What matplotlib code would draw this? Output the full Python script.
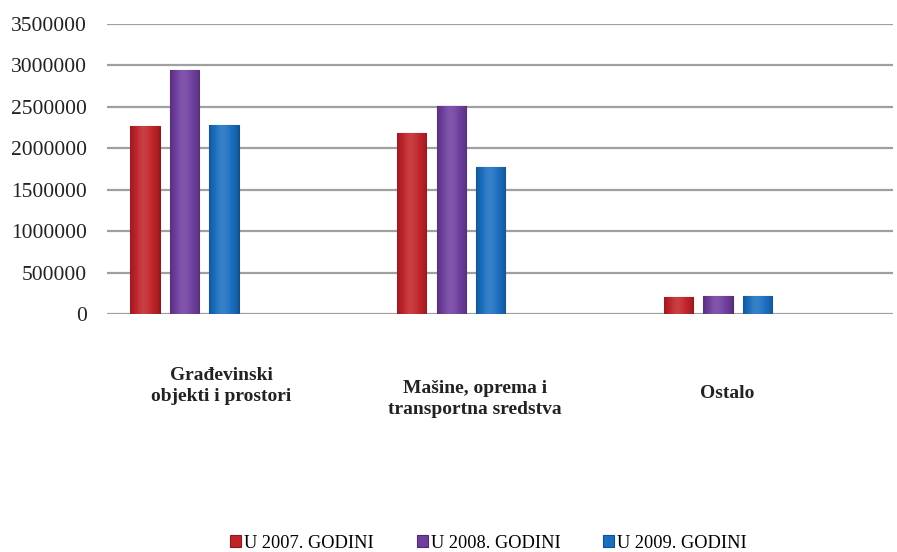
import numpy as np
import matplotlib.pyplot as plt
import matplotlib.transforms as mtransforms
from matplotlib.colors import to_rgb

# data
categories = ['Građevinski\nobjekti i prostori',
              'Mašine, oprema i\ntransportna sredstva',
              'Ostalo']
series_names = ['U 2007. GODINI', 'U 2008. GODINI', 'U 2009. GODINI']
values_2007 = [2270000, 2180000, 205000]
values_2008 = [2950000, 2510000, 220000]
values_2009 = [2280000, 1770000, 215000]
yticks = [0, 500000, 1000000, 1500000, 2000000, 2500000, 3000000, 3500000]

colors = ['#c0242a', '#6f3f9e', '#1b6fc0']
edges = ['#8a1a1e', '#4e2a70', '#134f8a']

plt.rcParams['font.family'] = ['Liberation Serif', 'DejaVu Serif']

fig = plt.figure(figsize=(8.97, 5.52), dpi=100)
ax = fig.add_axes([0.1193, 0.4312, 0.8762, 0.5254])

x = np.arange(len(categories))
offsets = [-0.148, 0.0, 0.148]
width = 0.109
all_vals = [values_2007, values_2008, values_2009]

# soft horizontal shading to mimic the rounded bars
prof = np.linspace(-1, 1, 40)
shade = 0.12 * np.exp(-((prof + 0.1) / 0.5) ** 2) - 0.22 * np.abs(prof) ** 3

for i in range(3):
    bars = ax.bar(x + offsets[i], all_vals[i], width, color=colors[i],
                  edgecolor=edges[i], linewidth=0.8, label=series_names[i],
                  zorder=3)
    base = np.array(to_rgb(colors[i]))
    img = np.zeros((1, len(prof), 3))
    for k, s in enumerate(shade):
        if s >= 0:
            img[0, k] = base + (1 - base) * s
        else:
            img[0, k] = base * (1 + s)
    for b in bars:
        im = ax.imshow(img, aspect='auto', zorder=3.5, interpolation='bilinear',
                       extent=[b.get_x(), b.get_x() + b.get_width(),
                               0, b.get_height()])
        im.set_clip_path(b)

ax.set_ylim(0, 3500000)
ax.set_xlim(-0.2905, 2.656)
ax.set_yticks(yticks)
ax.set_yticklabels([str(v) for v in yticks], fontsize=15.5, color='#222222')
ax.tick_params(axis='y', length=0, pad=14.5)
ax.set_xticks([])
ax.yaxis.grid(True, color='#a0a0a0', linewidth=1.6, zorder=0)
for s in ax.spines.values():
    s.set_visible(False)

# category labels below the plot
trans = mtransforms.blended_transform_factory(ax.transData, fig.transFigure)
label_dx = [0.137, 0.089, 0.034]
label_y = [1 - 386 / 552, 1 - 399 / 552, 1 - 393 / 552]
for i, c in enumerate(categories):
    ax.text(x[i] + label_dx[i], label_y[i], c, transform=trans, ha='center',
            va='center', fontsize=14, fontweight='bold', linespacing=1.3,
            color='#222222')

fig.legend(loc='center', bbox_to_anchor=(0.5446, 1 - 543 / 552), ncol=3,
           frameon=False, fontsize=13.2, handlelength=0.6, handleheight=0.6,
           handletextpad=0.15, columnspacing=2.35)

plt.savefig('out.png', dpi=100)
